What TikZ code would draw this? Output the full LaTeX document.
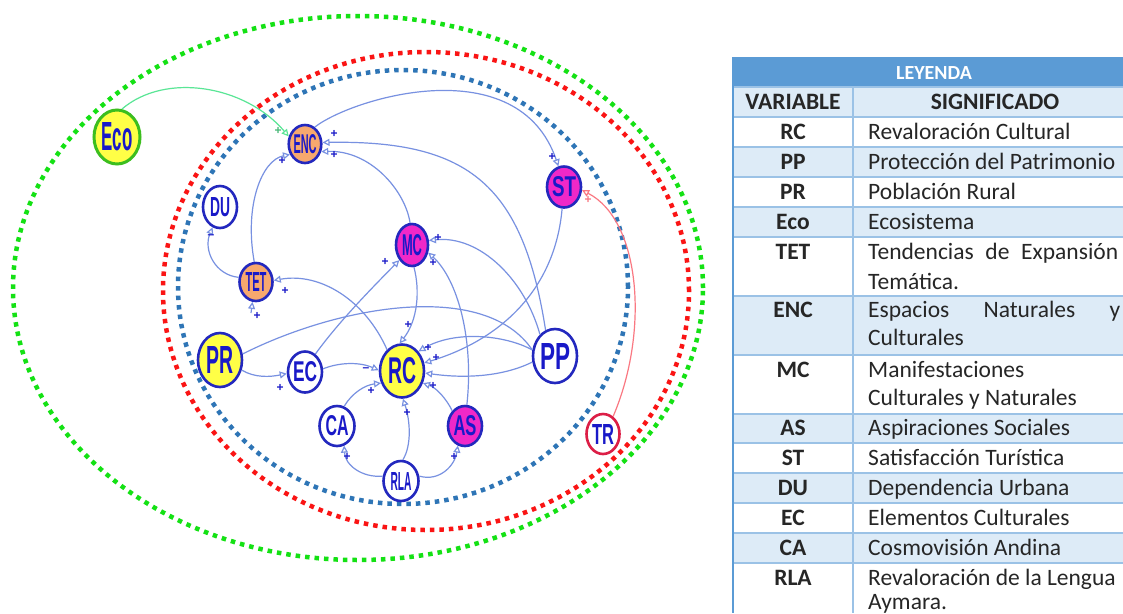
\documentclass[tikz,border=0pt]{standalone}
\usepackage{fontspec}
\usepackage{graphicx}
\setmainfont{Carlito}
\newfontfamily\labfont{Liberation Sans}
\usetikzlibrary{shapes.geometric,arrows.meta}
\definecolor{nodeblue}{RGB}{35,40,190}
\definecolor{labblue}{RGB}{25,25,200}
\definecolor{edgeblue}{RGB}{120,145,225}
\definecolor{dotgreen}{RGB}{20,225,20}
\definecolor{dotred}{RGB}{250,20,20}
\definecolor{dotblue}{RGB}{46,117,182}
\definecolor{fyellow}{RGB}{255,255,70}
\definecolor{forange}{RGB}{247,168,110}
\definecolor{fmag}{RGB}{240,40,200}
\definecolor{hdr}{RGB}{91,155,213}
\definecolor{rowlt}{RGB}{221,235,247}
\definecolor{gridc}{RGB}{155,194,230}
\definecolor{ecoline}{RGB}{90,230,150}
\definecolor{trline}{RGB}{250,120,130}
\definecolor{trborder}{RGB}{220,30,70}
\definecolor{ecoborder}{RGB}{60,190,30}
\newcommand{\lab}[3]{\resizebox{#1pt}{#2pt}{\labfont\bfseries #3}}
\tikzset{
  var/.style={ellipse, draw=nodeblue, line width=2.6pt, inner sep=0pt, text=labblue},
  edge/.style={draw=edgeblue, line width=1.2pt, -{Triangle[open,length=7pt,width=7pt]}},
  sgn/.style={text=labblue, font=\labfont\bfseries\fontsize{12}{12}\selectfont, inner sep=0pt},
  dots/.style={line width=4.5pt, dash pattern=on 4.5pt off 5pt},
  cell/.style={anchor=base, inner sep=0pt, font=\fontsize{23.5}{28}\selectfont, text=black!85},
  cellw/.style={anchor=base west, inner sep=0pt, font=\fontsize{23.5}{28}\selectfont, text=black!85},
}
\begin{document}
\begin{tikzpicture}[x=1pt,y=-1pt]
\useasboundingbox (0,0) rectangle (1123,613);
\fill[white] (0,0) rectangle (1123,613);
% dotted boundaries
\draw[dots, dotgreen] (358,288) ellipse [x radius=345pt, y radius=272pt];
\draw[dots, dotred] (426,291) ellipse [x radius=263pt, y radius=239pt];
\draw[dots, dotblue] (403,287) ellipse [x radius=225pt, y radius=217pt];
% nodes
\node[var, draw=ecoborder, line width=3pt, fill=fyellow, minimum width=46pt, minimum height=54pt] (Eco) at (117,137) {\lab{31}{28}{Eco}};
\node[var, fill=forange, minimum width=32pt, minimum height=38pt] (ENC) at (305,144) {\lab{23}{19}{ENC}};
\node[var, fill=white, minimum width=34pt, minimum height=42pt] (DU) at (220,207) {\lab{20}{19}{DU}};
\node[var, fill=forange, minimum width=33pt, minimum height=38pt] (TET) at (256,282) {\lab{21}{19}{TET}};
\node[var, fill=fmag, minimum width=32pt, minimum height=42pt] (MC) at (412,245) {\lab{20}{21}{MC}};
\node[var, fill=fmag, minimum width=34pt, minimum height=41pt] (ST) at (564,187) {\lab{24}{20}{ST}};
\node[var, fill=fyellow, minimum width=44pt, minimum height=54pt] (PR) at (220,360) {\lab{27}{27}{PR}};
\node[var, fill=white, minimum width=34pt, minimum height=41pt] (EC) at (305,372) {\lab{24}{20}{EC}};
\node[var, fill=fyellow, minimum width=44pt, minimum height=53pt] (RC) at (402,371) {\lab{28}{26}{RC}};
\node[var, fill=white, minimum width=44pt, minimum height=54pt] (PP) at (555,356) {\lab{30}{26}{PP}};
\node[var, fill=white, minimum width=35pt, minimum height=40pt] (CA) at (337,426) {\lab{23}{20}{CA}};
\node[var, fill=fmag, minimum width=34pt, minimum height=40pt] (AS) at (465,426) {\lab{23}{20}{AS}};
\node[var, fill=white, minimum width=35pt, minimum height=40pt] (RLA) at (401,481) {\lab{21}{18}{RLA}};
\node[var, draw=trborder, fill=white, minimum width=33pt, minimum height=40pt] (TR) at (603,434) {\lab{22}{20}{TR}};
% connectors
\draw[edge, draw=ecoline] (Eco.80) .. controls (165,72) and (245,85) .. (ENC.155);
\draw[edge] (ENC.60) .. controls (352,98) and (518,48) .. (ST.105);
\draw[edge] (PP.110) .. controls (523,186) and (470,140) .. (ENC.5);
\draw[edge] (MC.95) .. controls (405,190) and (370,150) .. (ENC.-25);
\draw[edge] (TET.95) .. controls (244,205) and (262,160) .. (ENC.-145);
\draw[edge] (TET.165) .. controls (215,275) and (203,250) .. (DU.-110);
\draw[edge] (RC.125) .. controls (365,300) and (320,272) .. (TET.5);
\coordinate (tetsrc) at (251,313);
\draw[edge] (tetsrc) -- (TET.-100);
\draw[edge] (EC.60) .. controls (340,320) and (375,285) .. (MC.-130);
\draw[edge] (PP.125) .. controls (525,280) and (480,235) .. (MC.15);
\draw[edge] (AS.85) .. controls (474,340) and (458,280) .. (MC.-25);
\draw[edge] (MC.-85) .. controls (420,290) and (418,320) .. (RC.95);
\draw[edge] (PP.165) .. controls (505,335) and (455,330) .. (RC.50);
\draw[edge] (ST.-95) .. controls (555,290) and (500,340) .. (RC.20);
\draw[edge] (PP.195) .. controls (500,378) and (460,378) .. (RC.-5);
\draw[edge] (AS.130) .. controls (447,400) and (437,388) .. (RC.-30);
\draw[edge] (EC.10) .. controls (340,362) and (360,362) .. (RC.178);
\draw[edge] (CA.70) .. controls (352,393) and (365,385) .. (RC.-150);
\draw[edge] (RLA.85) .. controls (412,445) and (410,420) .. (RC.-88);
\draw[edge] (RLA.165) .. controls (362,478) and (345,465) .. (CA.-70);
\draw[edge] (RLA.15) .. controls (440,482) and (455,465) .. (AS.-110);
\draw[edge] (PR.-25) .. controls (255,378) and (270,377) .. (EC.185);
\draw[draw=edgeblue, line width=1.2pt] (PR.15) .. controls (340,305) and (485,280) .. (PP.165);
\draw[edge, draw=trline] (TR.60) .. controls (650,330) and (640,220) .. (ST.-10);
% polarity signs
\node[sgn, text=ecoline!80!black] (s1) at (278,131) {+};
\node[sgn] (s2) at (552,157) {+};
\node[sgn] (s3) at (334,134) {+};
\node[sgn] (s4) at (334,155) {+};
\node[sgn] (s5) at (282,161) {+};
\node[sgn] (s6) at (211,237) {–};
\node[sgn] (s7) at (285,291) {+};
\node[sgn] (s8) at (257,316) {+};
\node[sgn] (s9) at (385,262) {+};
\node[sgn] (s10) at (438,238) {+};
\node[sgn] (s11) at (433,263) {+};
\node[sgn] (s12) at (408,325) {+};
\node[sgn] (s13) at (428,348) {+};
\node[sgn] (s14) at (436,358) {+};
\node[sgn] (s15) at (433,386) {+};
\node[sgn] (s16) at (366,370) {–};
\node[sgn] (s17) at (371,391) {+};
\node[sgn] (s18) at (407,413) {+};
\node[sgn] (s19) at (347,457) {+};
\node[sgn] (s20) at (454,457) {+};
\node[sgn] (s21) at (280,388) {+};
\node[sgn, text=trline] (s22) at (588,200) {+};
% legend table
\begin{scope}
\clip (732,56) rectangle (1123,613);
\fill[hdr] (733,57) rectangle (1140,87);
\foreach \a/\b in {87/117,147/177,207/237,296/355,414/443,473/503,533/563}
  \fill[rowlt] (733,\a) rectangle (1140,\b);
\foreach \yy in {87,117,147,177,207,237,296,355,414,443,473,503,533,563}
  \draw[gridc, line width=1.2pt] (733,\yy) -- (1140,\yy);
\draw[gridc, line width=1.2pt] (853,87) -- (853,613);
\draw[hdr, line width=1.5pt] (733,57) -- (733,613);
\draw[hdr, line width=1pt] (733,57) -- (1140,57);
\end{scope}
\node[cell, font=\bfseries\fontsize{20}{24}\selectfont, text=white] (h0) at (934,79) {LEYENDA};
\node[cell, font=\bfseries\fontsize{23.5}{28}\selectfont] (h1) at (793,109.5) {VARIABLE};
\node[cell, font=\bfseries\fontsize{23.5}{28}\selectfont] (h2) at (995,109.5) {SIGNIFICADO};
\foreach \v/\yy [count=\i] in {RC/139.5,PP/169.5,PR/199.5,Eco/229.5,TET/259.5,ENC/317.5,MC/377.5,AS/435.5,ST/465.5,DU/495.5,EC/525.5,CA/555.5,RLA/585.5}
  \node[cell, font=\bfseries\fontsize{23.5}{28}\selectfont] (v\i) at (793,\yy) {\v};
\node[cellw] (d1) at (868,139.5) {Revaloración Cultural};
\node[cellw] (d2) at (868,169.5) {Protección del Patrimonio};
\node[cellw] (d3) at (868,199.5) {Población Rural};
\node[cellw] (d4) at (868,229.5) {Ecosistema};
\node[cellw] (d5) at (868,259.5) {\hbox to 250pt{Tendencias\hfill de\hfill Expansión}};
\node[cellw] (d5b) at (868,289.5) {Temática.};
\node[cellw] (d6) at (868,317.5) {\hbox to 252pt{Espacios\hfill Naturales\hfill y}};
\node[cellw] (d6b) at (868,345.5) {Culturales};
\node[cellw] (d7) at (868,377.5) {Manifestaciones};
\node[cellw] (d7b) at (868,405.5) {Culturales y Naturales};
\node[cellw] (d8) at (868,435.5) {Aspiraciones Sociales};
\node[cellw] (d9) at (868,465.5) {Satisfacción Turística};
\node[cellw] (d10) at (868,495.5) {Dependencia Urbana};
\node[cellw] (d11) at (868,525.5) {Elementos Culturales};
\node[cellw] (d12) at (868,555.5) {Cosmovisión Andina};
\node[cellw] (d13) at (868,585.5) {Revaloración de la Lengua};
\node[cellw] (d13b) at (868,609) {Aymara.};
\end{tikzpicture}
\end{document}
